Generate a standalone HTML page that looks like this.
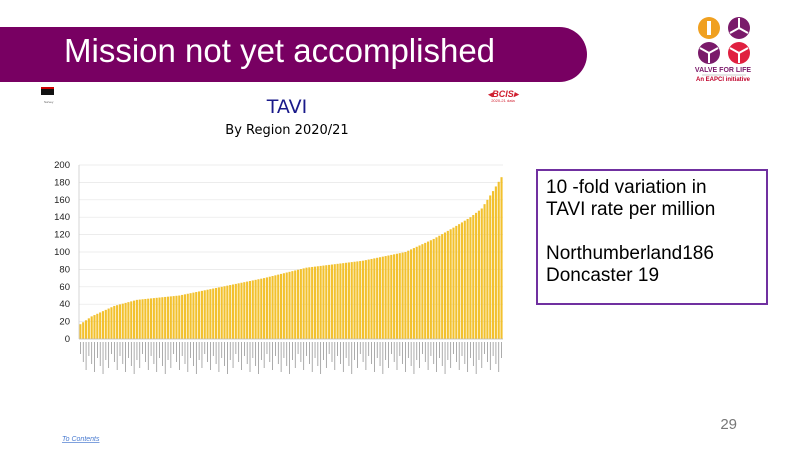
<!DOCTYPE html>
<html><head><meta charset="utf-8"><style>
body{margin:0;width:800px;height:450px;background:#fff;position:relative;overflow:hidden;font-family:"Liberation Sans",sans-serif}
.ban{position:absolute;left:0;top:27px;width:587px;height:55px;background:#780062;border-radius:0 28px 28px 0}
.ban span{position:absolute;left:64px;top:5px;color:#fff;font-size:33px;white-space:nowrap}
.box{position:absolute;left:536px;top:169px;width:232px;height:136px;border:2px solid #7030a0;box-sizing:border-box;padding:6px 8px;font-size:19px;line-height:22px;color:#000;white-space:nowrap}
</style></head><body>
<div class="ban"><span>Mission not yet accomplished</span></div>
<svg width="800" height="450" style="position:absolute;left:0;top:0">
<circle cx="709" cy="28" r="11" fill="#f0a020"/><rect x="707" y="21" width="4" height="14" fill="#fff"/>
<circle cx="739" cy="28" r="11" fill="#7a1a6a"/><circle cx="709" cy="53" r="11" fill="#7a1a6a"/><circle cx="739" cy="53" r="11" fill="#e02040"/>
<path d="M739 28 L739 18 M739 28 L730 33 M739 28 L748 33" stroke="#fff" stroke-width="2"/>
<path d="M709 53 L709 63 M709 53 L700 48 M709 53 L718 48" stroke="#fff" stroke-width="2"/>
<path d="M739 53 L739 63 M739 53 L730 48 M739 53 L748 48" stroke="#fff" stroke-width="2"/>
<text x="723" y="72" font-size="7" font-weight="bold" fill="#7a1a6a" text-anchor="middle">VALVE FOR LIFE</text>
<line x1="702" y1="75" x2="746" y2="75" stroke="#999" stroke-width="0.5"/>
<text x="723" y="81" font-size="6" font-weight="bold" fill="#c0002a" text-anchor="middle">An EAPCI initiative</text>
<rect x="41" y="87" width="13" height="8" fill="#111"/><rect x="41" y="87" width="13" height="2" fill="#c00"/>
<text x="44" y="103" font-size="3" fill="#555">Survey</text>
<text x="503" y="97" font-size="9" font-weight="bold" font-style="italic" fill="#d02030" text-anchor="middle">◂BCIS▸</text>
<text x="503" y="102" font-size="4" fill="#d02030" text-anchor="middle">2020-21 data</text>
<text x="287" y="113" font-size="19" fill="#1a1a8a" text-anchor="middle" font-family="DejaVu Sans">TAVI</text>
<text x="287" y="134" font-size="13" fill="#000" text-anchor="middle" font-family="DejaVu Sans">By Region 2020/21</text>
<g id="ch" font-size="9.5" fill="#222" text-anchor="end"></g>
<text x="62" y="441" font-size="7" fill="#4a7bd0" text-decoration="underline" font-style="italic">To Contents</text>
<text x="737" y="429" font-size="15" fill="#777" text-anchor="end">29</text>
</svg>
<div class="box">10 -fold variation in<br>TAVI rate per million<br><br>Northumberland186<br>Doncaster 19</div>
<script>
var g=document.getElementById('ch'),s='';
var y0=339,sc=174/200,x0=79,x1=503;
for(var v=0;v<=200;v+=20){var y=y0-v*sc;s+='<line x1="'+x0+'" y1="'+y+'" x2="'+x1+'" y2="'+y+'" stroke="#e6e6e6" stroke-width="0.7"/><text x="70" y="'+(y+3)+'">'+v+'</text>';}
var k=[[0,17],[4,26],[12,38],[20,45],[35,50],[50,60],[65,70],[80,82],[100,90],[115,100],[125,115],[132,128],[138,140],[142,150],[146,170],[149,186]];
var N=150,w=(x1-x0)/N;
function f(i){for(var j=0;j<k.length-1;j++){if(i<=k[j+1][0]){var t=(i-k[j][0])/(k[j+1][0]-k[j][0]);return k[j][1]+t*(k[j+1][1]-k[j][1]);}}return 186;}
for(var i=0;i<N;i++){var v=f(i),h=v*sc,x=x0+i*w;s+='<rect x="'+(x+0.3).toFixed(2)+'" y="'+(y0-h).toFixed(2)+'" width="'+(w*0.75).toFixed(2)+'" height="'+h.toFixed(2)+'" fill="#f2c12e"/>';
var l=12+((i*37)%11)*2;s+='<line x1="'+(x+w/2).toFixed(2)+'" y1="342" x2="'+(x+w/2).toFixed(2)+'" y2="'+(342+l)+'" stroke="#888" stroke-width="0.7"/>';}
s+='<line x1="'+x0+'" y1="'+y0+'" x2="'+x1+'" y2="'+y0+'" stroke="#bbb" stroke-width="0.8"/><line x1="'+x0+'" y1="165" x2="'+x0+'" y2="'+y0+'" stroke="#ccc" stroke-width="0.8"/>';
g.innerHTML=s;
</script>
</body></html>
